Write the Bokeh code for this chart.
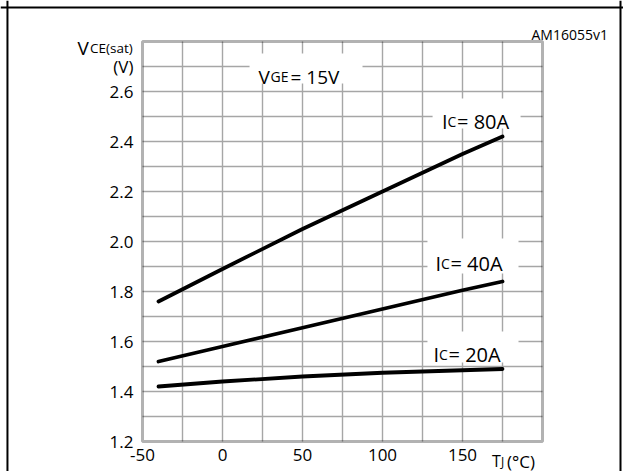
from bokeh.plotting import figure
from bokeh.models import FixedTicker, Label, BoxAnnotation, Span, Range1d
from bokeh.embed import file_html
from bokeh.resources import INLINE

# ---- data ----
temps = [-40, 0, 50, 100, 150, 175]                 # TJ (°C)
v_80a = [1.76, 1.89, 2.05, 2.20, 2.35, 2.42]        # VCE(sat) at IC = 80 A
v_40a = [1.52, 1.58, 1.655, 1.73, 1.805, 1.84]      # VCE(sat) at IC = 40 A
v_20a = [1.42, 1.44, 1.46, 1.475, 1.485, 1.49]      # VCE(sat) at IC = 20 A

x_ticks = [-50, 0, 50, 100, 150]
x_tick_labels = ["-50", "0", "50", "100", "150"]
y_ticks = [1.2, 1.4, 1.6, 1.8, 2.0, 2.2, 2.4, 2.6, 2.7]
y_tick_labels = ["1.2", "1.4", "1.6", "1.8", "2.0", "2.2", "2.4", "2.6", "(V)"]
x_grid = [-25, 0, 25, 50, 75, 100, 125, 150, 175]
y_grid = [1.3, 1.4, 1.5, 1.6, 1.7, 1.8, 1.9, 2.0, 2.1, 2.2, 2.3, 2.4, 2.5, 2.6, 2.7]
x_lim = (-50, 200)
y_lim = (1.2, 2.8)

FONT = "Open Sans"

# The frame covers the whole canvas; the chart box is drawn inside it.
p = figure(width=623, height=471,
           x_range=Range1d(-138.75, 250.625), y_range=Range1d(1.08, 2.964),
           output_backend="svg", toolbar_location=None,
           min_border_left=0, min_border_right=0,
           min_border_top=0, min_border_bottom=0)
p.background_fill_color = "white"
p.border_fill_color = "white"
p.outline_line_color = None
p.grid.visible = False

# axes fixed on the chart box edges
p.xaxis.fixed_location = y_lim[0]
p.yaxis.fixed_location = x_lim[0]
p.xaxis.ticker = FixedTicker(ticks=x_ticks)
p.xaxis.major_label_overrides = dict(zip(x_ticks, x_tick_labels))
p.yaxis.ticker = FixedTicker(ticks=y_ticks)
p.yaxis.major_label_overrides = dict(zip(y_ticks, y_tick_labels))
for ax in (p.xaxis, p.yaxis):
    ax.axis_line_color = None
    ax.major_tick_line_color = None
    ax.minor_tick_line_color = None
    ax.major_tick_out = 0
    ax.major_tick_in = 0
    ax.major_label_text_font = FONT
    ax.major_label_text_font_size = "17px"
    ax.major_label_text_color = "black"
p.yaxis.major_label_standoff = 9
p.xaxis.major_label_standoff = 7

# grid lines inside the chart box, from the grid arrays
p.segment(x0=x_grid, x1=x_grid,
          y0=[y_lim[0]] * len(x_grid), y1=[y_lim[1]] * len(x_grid),
          line_color="#a6a6a6", line_width=1.4)
p.segment(x0=[x_lim[0]] * len(y_grid), x1=[x_lim[1]] * len(y_grid),
          y0=y_grid, y1=y_grid,
          line_color="#a6a6a6", line_width=1.4)

# curves
for vals in (v_80a, v_40a, v_20a):
    p.line(temps, vals, line_color="black", line_width=3.8, line_cap="round")

# chart box frame
p.add_layout(BoxAnnotation(left=x_lim[0], right=x_lim[1],
                           bottom=y_lim[0], top=y_lim[1],
                           fill_alpha=0, line_color="black", line_width=3))

# outer cell border (top, left, right)
p.add_layout(Span(location=2.936, dimension="width", line_color="black", line_width=2))
p.add_layout(Span(location=-134.4, dimension="height", line_color="black", line_width=2))
p.add_layout(Span(location=248.75, dimension="height", line_color="black", line_width=2))

# white boxes behind the in-plot labels
boxes = [
    (16.9, 87.5, 2.752, 2.632),
    (131.3, 186.3, 2.572, 2.452),
    (128.1, 185.0, 2.012, 1.872),
    (128.1, 185.0, 1.640, 1.516),
]
for l, r, t, b in boxes:
    p.add_layout(BoxAnnotation(left=l, right=r, top=t, bottom=b,
                               fill_color="white", fill_alpha=1.0,
                               line_color=None))


def composite(x, y, pieces, align="left"):
    for text, size, dx in pieces:
        p.add_layout(Label(x=x, y=y, x_offset=dx, text=text,
                           text_font=FONT, text_font_size=f"{size}px",
                           text_color="black", text_align=align,
                           text_baseline="alphabetic"))


composite(22.5, 2.66, [("V", 19, 0), ("GE", 14, 12), ("= 15V", 19, 32)])
composite(137.2, 2.48, [("I", 20, 0), ("C", 14, 5.5), ("= 80A", 20, 15)])
composite(133.1, 1.914, [("I", 20, 0), ("C", 14, 5.5), ("= 40A", 20, 15)])
composite(131.9, 1.547, [("I", 20, 0), ("C", 14, 5.5), ("= 20A", 20, 15)])

# axis titles
composite(-90.6, 2.776, [("V", 19, 0), ("CE(sat)", 13.5, 12.5)])
composite(168.4, 1.122, [("T", 16, 0), ("J", 12, 9), ("(°C)", 17, 15)])

# figure id
composite(240.9, 2.828, [("AM16055v1", 14, 0)], align="right")

open("out.html", "w").write(file_html(p, INLINE))
